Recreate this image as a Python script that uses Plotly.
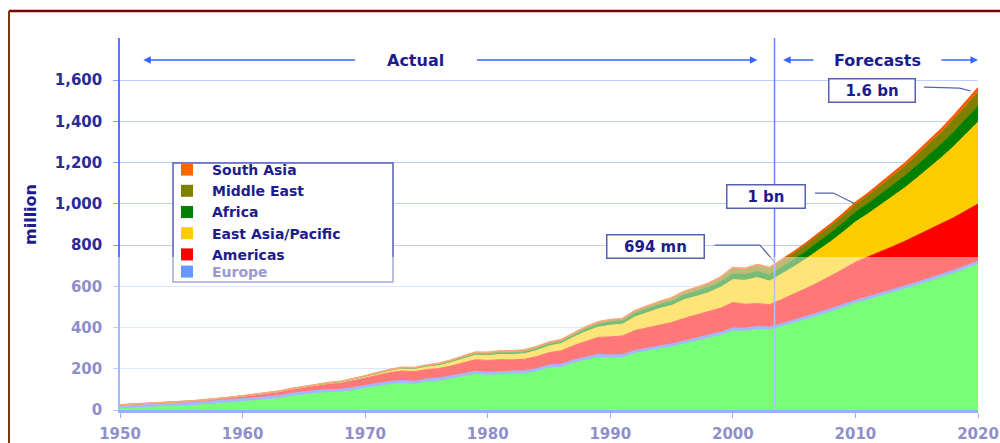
import plotly.graph_objects as go

years = list(range(1950, 2021))

europe = [16.8, 19, 21, 23, 26, 29, 32, 36, 40, 45,
          50.4, 55, 60, 66, 76, 84, 90, 94, 96, 104,
          113, 123, 133, 138, 134, 146, 150, 160, 172, 183,
          178, 182, 184, 186, 196, 213, 217, 237, 251, 265,
          262, 264, 283, 295, 306, 315, 330, 345, 360, 372,
          393, 392, 401, 398, 414, 431, 449, 467, 486, 506,
          527, 543, 560, 577, 595, 614, 633, 652, 672, 694, 717]
americas = [7.5, 8.0, 8.5, 9.0, 9.5, 10.5, 11.5, 12.5, 13.5, 15,
            16.7, 18, 20, 22, 24, 26, 29, 32, 35, 38,
            42.3, 45, 48, 51, 52, 50, 51, 53, 57, 61,
            62.3, 62, 59, 60, 63, 65, 70, 75, 81, 87,
            92.8, 95, 102, 103, 106, 109, 114, 116, 119, 122,
            128, 121, 115, 113, 122, 131, 141, 152, 164, 176,
            190, 198, 206, 214, 222, 231, 240, 250, 260, 271, 282]
east_asia = [0.2, 0.25, 0.3, 0.35, 0.4, 0.5, 0.55, 0.6, 0.7, 0.8,
             0.9, 1.1, 1.4, 1.7, 2.0, 2.3, 2.8, 3.3, 3.8, 4.9,
             6.2, 7.4, 9.0, 10.8, 11.5, 12.6, 14.6, 17.0, 19.6, 21.6,
             23.0, 25.3, 26.2, 26.8, 29.5, 31.9, 34.9, 40.8, 47.3, 49.5,
             56.2, 57.4, 65.8, 73.3, 79.7, 82.4, 90.4, 89.7, 89.4, 101,
             111, 116, 126, 114, 123, 133, 144, 155, 167, 181,
             195, 209, 225, 242, 259, 279, 299, 321, 345, 370, 397]
africa = [0.5, 0.55, 0.6, 0.62, 0.65, 0.68, 0.7, 0.72, 0.75, 0.78,
          0.8, 0.9, 1.0, 1.1, 1.3, 1.4, 1.6, 1.8, 1.9, 2.1,
          2.4, 2.8, 3.2, 3.6, 3.8, 4.4, 4.8, 5.2, 5.9, 6.6,
          7.2, 8.0, 7.9, 8.3, 8.6, 9.7, 9.3, 9.8, 12.5, 13.8,
          15.2, 16.2, 18.0, 18.5, 18.9, 20.1, 21.8, 23.2, 25.4, 26.5,
          28.2, 28.8, 29.5, 30.7, 33, 35, 37, 39, 42, 44,
          47, 49, 52, 54, 57, 60, 63, 66, 70, 73, 77]
middle_east = [0.2, 0.22, 0.25, 0.27, 0.3, 0.33, 0.36, 0.4, 0.45, 0.5,
               0.6, 0.7, 0.8, 0.9, 1.0, 1.1, 1.2, 1.3, 1.5, 1.7,
               1.9, 2.2, 2.6, 3.0, 3.5, 4.0, 4.5, 5.2, 5.9, 6.6,
               7.1, 7.5, 7.8, 8.3, 8.4, 8.2, 8.1, 9.0, 9.2, 9.5,
               9.6, 8.3, 10.3, 11.6, 12.4, 13.7, 14.7, 15.4, 15.8, 18.2,
               24.4, 24.2, 28.6, 30.0, 30.5, 31, 32, 33, 34, 35,
               36, 39, 42, 45, 48, 51, 54, 57, 61, 65, 69]
south_asia = [0.03, 0.04, 0.05, 0.06, 0.07, 0.08, 0.1, 0.12, 0.14, 0.17,
              0.2, 0.25, 0.3, 0.35, 0.4, 0.45, 0.5, 0.6, 0.7, 0.8,
              0.9, 1.0, 1.1, 1.2, 1.3, 1.4, 1.6, 1.8, 2.0, 2.1,
              2.2, 2.3, 2.4, 2.4, 2.5, 2.5, 2.7, 2.8, 3.0, 3.1,
              3.2, 3.0, 3.5, 3.5, 3.8, 4.2, 4.5, 4.8, 4.9, 5.5,
              6.1, 5.8, 5.8, 6.0, 6.5, 7.0, 7.6, 8.3, 9.2, 10.1,
              11, 11.7, 12.3, 13.0, 13.8, 14.6, 15.5, 16.4, 17.3, 18.2, 19]

series = [
    ("Europe", europe, "#00FF00", "#5577FF", 3, "#6699FF"),
    ("Americas", americas, "#FF0000", "#FF0000", 1, "#FF0000"),
    ("East Asia/Pacific", east_asia, "#FFCC00", "#FFCC00", 1, "#FFCC00"),
    ("Africa", africa, "#008000", "#008000", 1, "#008000"),
    ("Middle East", middle_east, "#808000", "#808000", 1, "#808000"),
    ("South Asia", south_asia, "#FF6600", "#FF5500", 1.5, "#FF6600"),
]

split_year = 2003.4
tick_years = [1950, 1960, 1970, 1980, 1990, 2000, 2010, 2020]
y_ticks = [0, 200, 400, 600, 800, 1000, 1200, 1400, 1600]

NAVY = "#1c1c8c"
TICK = "#2a2a9a"
FONT = "DejaVu Sans"

fig = go.Figure()
for name, vals, fill, line, lw, _ in series:
    fig.add_trace(go.Scatter(
        x=years, y=vals, name=name, stackgroup="one", mode="lines",
        fillcolor=fill, line=dict(color=line, width=lw), showlegend=False,
        hoverinfo="skip"))

# legend entries (small squares)
for name, vals, fill, line, lw, lcol in reversed(series):
    fig.add_trace(go.Scatter(
        x=[None], y=[None], name=name, mode="markers",
        marker=dict(symbol="square", size=9, color=lcol),
        legend="legend2" if name == "Europe" else "legend"))

L, R, T, B = 120, 22, 38, 33
W, H = 1000, 443
pw, ph = W - L - R, H - T - B


def px(xp):
    return (xp - L) / pw


def py(yp):
    return (H - B - yp) / ph


shapes = []
# legend box
shapes.append(dict(type="rect", xref="paper", yref="paper",
                   x0=px(173), x1=px(393), y0=py(282), y1=py(163),
                   fillcolor="white", line=dict(color="#5560B0", width=1.5),
                   layer="above"))
# divider
shapes.append(dict(type="line", xref="x", yref="paper", x0=split_year, x1=split_year,
                   y0=0, y1=1, line=dict(color="#6688FF", width=1.5), layer="above"))
# leader lines
shapes.append(dict(type="path", xref="x", yref="y",
                   path="M 2015.6 1566 L 2018.5 1561 L 2019.4 1547",
                   line=dict(color="#5560B0", width=1.2), layer="above"))
shapes.append(dict(type="path", xref="x", yref="y",
                   path="M 2006.7 1052 L 2008.2 1052 L 2010.0 999",
                   line=dict(color="#5560B0", width=1.2), layer="above"))
shapes.append(dict(type="path", xref="x", yref="y",
                   path="M 1998.5 800 L 2002.2 800 L 2003.4 718",
                   line=dict(color="#5560B0", width=1.2), layer="above"))
# faded lower band (white veil)
shapes.append(dict(type="rect", xref="paper", yref="paper",
                   x0=px(0), x1=px(1000), y0=py(443), y1=py(257),
                   fillcolor="rgba(255,255,255,0.47)", line=dict(width=0),
                   layer="above"))
# frame lines
shapes.append(dict(type="line", xref="paper", yref="paper",
                   x0=px(9), x1=px(1000), y0=py(11), y1=py(11),
                   line=dict(color="#800000", width=2.5), layer="above"))
shapes.append(dict(type="line", xref="paper", yref="paper",
                   x0=px(9), x1=px(9), y0=py(11), y1=py(443),
                   line=dict(color="#7a3a10", width=2), layer="above"))

annotations = []
ytop = 1697
arrow = dict(showarrow=True, arrowhead=2, arrowsize=1, arrowwidth=1.5,
             arrowcolor="#3366FF", axref="x", ayref="y", xref="x", yref="y", text="")
for head, tail in [(1951.9, 1969.3), (2002.0, 1979.0), (2004.1, 2006.7), (2020.0, 2016.9)]:
    annotations.append(dict(x=head, y=ytop, ax=tail, ay=ytop, **arrow))
annotations.append(dict(x=1974.1, y=ytop, text="<b>Actual</b>", showarrow=False,
                        xanchor="center", yanchor="middle",
                        font=dict(family=FONT, size=16, color=NAVY)))
annotations.append(dict(x=2011.8, y=ytop, text="<b>Forecasts</b>", showarrow=False,
                        xanchor="center", yanchor="middle",
                        font=dict(family=FONT, size=16, color=NAVY)))
box = dict(showarrow=False, bgcolor="white", bordercolor="#5560B0", borderwidth=1.5,
           borderpad=3, height=16, xanchor="center", yanchor="middle",
           font=dict(family=FONT, size=15, color=NAVY))
annotations.append(dict(x=2011.35, y=1549, text="<b>1.6 bn</b>", width=79, **box))
annotations.append(dict(x=2002.7, y=1033, text="<b>1 bn</b>", width=71, **box))
annotations.append(dict(x=1993.7, y=795, text="<b>694 mn</b>", width=90, **box))
annotations.append(dict(xref="paper", yref="paper", x=px(30), y=py(215),
                        xanchor="center", yanchor="middle",
                        text="<b>million</b>", textangle=-90, showarrow=False,
                        font=dict(family=FONT, size=16, color=NAVY)))

fig.update_layout(
    width=W, height=H, margin=dict(l=L, r=R, t=T, b=B),
    plot_bgcolor="white", paper_bgcolor="white",
    font=dict(family=FONT, color=NAVY),
    xaxis=dict(range=[1950, 2020], tickvals=tick_years, showgrid=False,
               automargin=False,
               showline=True, linecolor="#4466EE", linewidth=3,
               ticks="outside", ticklen=5, tickcolor="#4466EE",
               tickfont=dict(family=FONT, size=15, color=TICK, weight="bold"),
               ticklabelstandoff=3, zeroline=False),
    yaxis=dict(range=[0, 1804], tickvals=y_ticks, tickformat=",",
               automargin=False,
               showgrid=True, gridcolor="#BBD0FF", gridwidth=1,
               showline=True, linecolor="#5577FF", linewidth=1.5,
               ticks="outside", ticklen=5, tickcolor="#8899FF",
               tickfont=dict(family=FONT, size=15, color=TICK, weight="bold"),
               ticklabelstandoff=8, zeroline=False),
    legend=dict(x=px(162), y=py(154), xanchor="left", yanchor="top",
                traceorder="normal", itemwidth=40,
                bgcolor="rgba(0,0,0,0)", borderwidth=0, tracegroupgap=0,
                font=dict(family=FONT, size=14, color=NAVY, weight="bold"),
                itemsizing="constant"),
    legend2=dict(x=px(162), y=py(256), xanchor="left", yanchor="top",
                 itemwidth=40,
                 bgcolor="rgba(0,0,0,0)", borderwidth=0,
                 font=dict(family=FONT, size=14, color="#9a9ad0", weight="bold"),
                 itemsizing="constant"),
    shapes=shapes, annotations=annotations,
)

fig.write_html("out.html", config={"displayModeBar": False},
               post_script="document.body.style.margin='0px';document.body.style.overflow='hidden';")
